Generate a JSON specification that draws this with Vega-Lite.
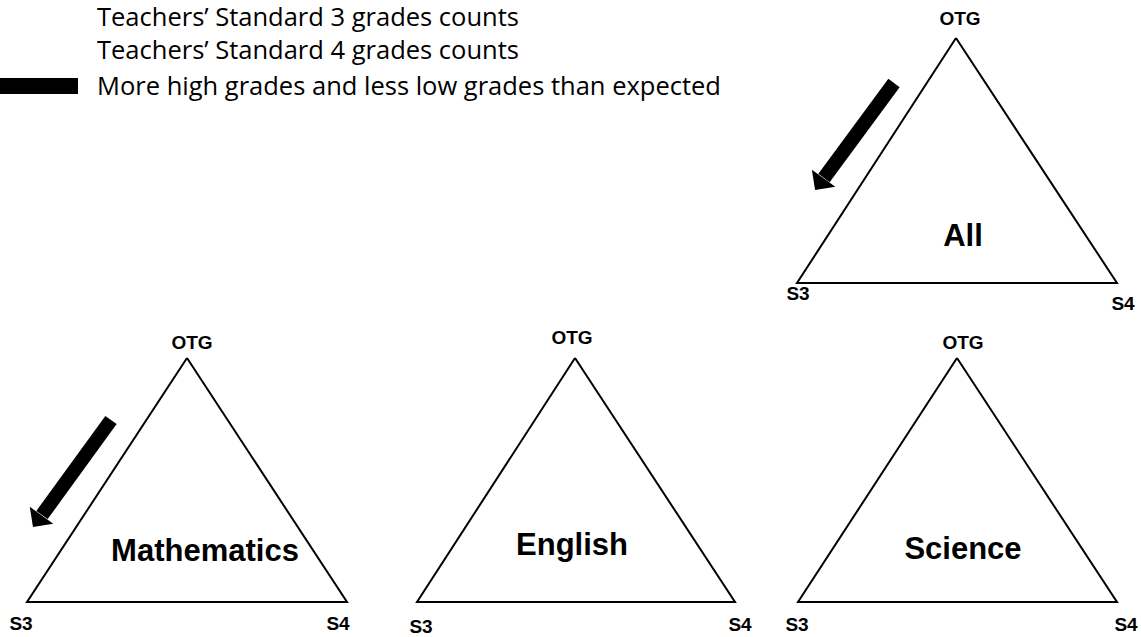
{
  "$schema": "https://vega.github.io/schema/vega-lite/v6.json",
  "width": 1141,
  "height": 637,
  "autosize": {"type": "fit", "contains": "padding"},
  "padding": 0,
  "background": "white",
  "config": {"view": {"stroke": null}},
  "datasets": {
    "tri": [
      {"panel": "All", "ord": 0, "x": 956, "y": 38},
      {"panel": "All", "ord": 1, "x": 1117, "y": 283},
      {"panel": "All", "ord": 2, "x": 797, "y": 283},
      {"panel": "All", "ord": 3, "x": 956, "y": 38},
      {"panel": "Mathematics", "ord": 0, "x": 187, "y": 358},
      {"panel": "Mathematics", "ord": 1, "x": 347, "y": 602},
      {"panel": "Mathematics", "ord": 2, "x": 27, "y": 602},
      {"panel": "Mathematics", "ord": 3, "x": 187, "y": 358},
      {"panel": "English", "ord": 0, "x": 575, "y": 358},
      {"panel": "English", "ord": 1, "x": 735, "y": 602},
      {"panel": "English", "ord": 2, "x": 417, "y": 602},
      {"panel": "English", "ord": 3, "x": 575, "y": 358},
      {"panel": "Science", "ord": 0, "x": 957, "y": 358},
      {"panel": "Science", "ord": 1, "x": 1117, "y": 602},
      {"panel": "Science", "ord": 2, "x": 798, "y": 602},
      {"panel": "Science", "ord": 3, "x": 957, "y": 358}
    ],
    "shafts": [
      {"panel": "All", "x": 894, "y": 83, "x2": 824, "y2": 178},
      {"panel": "Mathematics", "x": 111, "y": 420, "x2": 42, "y2": 515}
    ],
    "heads": [
      {"panel": "All", "x": 823.6, "y": 178.3},
      {"panel": "Mathematics", "x": 41.5, "y": 515.3}
    ],
    "vertex": [
      {"t": "OTG", "x": 960, "y": 18.5},
      {"t": "S3", "x": 798, "y": 294},
      {"t": "S4", "x": 1123, "y": 304},
      {"t": "OTG", "x": 192, "y": 343},
      {"t": "S3", "x": 21, "y": 624},
      {"t": "S4", "x": 338, "y": 624},
      {"t": "OTG", "x": 572, "y": 338},
      {"t": "S3", "x": 421, "y": 627},
      {"t": "S4", "x": 740, "y": 625},
      {"t": "OTG", "x": 963, "y": 343},
      {"t": "S3", "x": 797, "y": 625},
      {"t": "S4", "x": 1126, "y": 625}
    ],
    "titles": [
      {"t": "All", "x": 963, "y": 237},
      {"t": "Mathematics", "x": 205, "y": 552},
      {"t": "English", "x": 572, "y": 546},
      {"t": "Science", "x": 963, "y": 550}
    ],
    "legendText": [
      {"t": "Teachers’ Standard 3 grades counts", "x": 97, "y": 26},
      {"t": "Teachers’ Standard 4 grades counts", "x": 97, "y": 59},
      {"t": "More high grades and less low grades than expected", "x": 97, "y": 95}
    ],
    "legendBar": [
      {"x": 0, "x2": 78, "y": 78, "y2": 94}
    ]
  },
  "encoding": {
    "x": {"field": "x", "type": "quantitative", "scale": {"domain": [0, 1141], "nice": false, "zero": false}, "axis": null},
    "y": {"field": "y", "type": "quantitative", "scale": {"domain": [0, 637], "nice": false, "zero": false, "reverse": true}, "axis": null}
  },
  "layer": [
    {
      "data": {"name": "tri"},
      "mark": {"type": "line", "color": "black", "strokeWidth": 2, "strokeJoin": "miter"},
      "encoding": {
        "detail": {"field": "panel", "type": "nominal"},
        "order": {"field": "ord", "type": "quantitative"}
      }
    },
    {
      "data": {"name": "shafts"},
      "mark": {"type": "rule", "color": "black", "strokeWidth": 14, "strokeCap": "butt"},
      "encoding": {
        "x2": {"field": "x2"},
        "y2": {"field": "y2"}
      }
    },
    {
      "data": {"name": "heads"},
      "mark": {"type": "point", "shape": "M -1 0 L 1 0 L 0 1 Z", "size": 841, "angle": 36, "filled": true, "color": "black", "opacity": 1, "strokeWidth": 0}
    },
    {
      "data": {"name": "legendBar"},
      "mark": {"type": "rect", "color": "black"},
      "encoding": {
        "x2": {"field": "x2"},
        "y2": {"field": "y2"}
      }
    },
    {
      "data": {"name": "legendText"},
      "mark": {"type": "text", "font": "Open Sans", "fontSize": 25.5, "align": "left", "baseline": "alphabetic", "color": "black"},
      "encoding": {"text": {"field": "t"}}
    },
    {
      "data": {"name": "vertex"},
      "mark": {"type": "text", "font": "Liberation Sans", "fontWeight": "bold", "fontSize": 19, "align": "center", "baseline": "middle", "color": "black"},
      "encoding": {"text": {"field": "t"}}
    },
    {
      "data": {"name": "titles"},
      "mark": {"type": "text", "font": "Liberation Sans", "fontWeight": "bold", "fontSize": 31, "align": "center", "baseline": "middle", "color": "black"},
      "encoding": {"text": {"field": "t"}}
    }
  ]
}
